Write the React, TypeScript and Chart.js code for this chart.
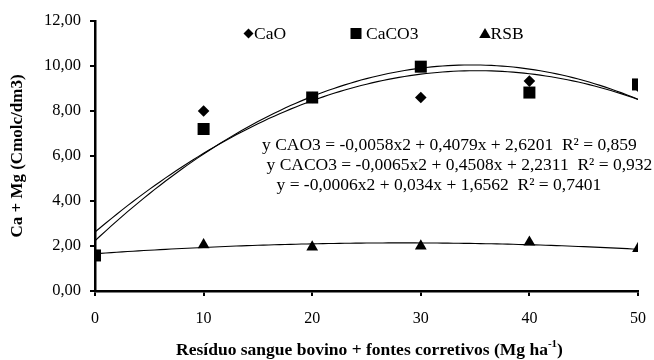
import React, { useEffect, useRef } from 'react';
import { Chart, registerables } from 'chart.js';

Chart.register(...registerables);

// ---- data ----
const doses = [0, 10, 20, 30, 40, 50];
const caoValues = [1.6, 8.0, 8.6, 8.6, 9.33, 9.1];
const caco3Values = [1.58, 7.2, 8.6, 9.97, 8.82, 9.18];
const rsbValues = [1.6, 2.05, 1.95, 2.0, 2.17, 1.89];
const yTicks = [0, 2, 4, 6, 8, 10, 12];
const xTicks = [0, 10, 20, 30, 40, 50];
const caoCoef = [-0.0058, 0.4079, 2.6201];
const caco3Coef = [-0.0065, 0.4508, 2.2311];
const rsbCoef = [-0.0006, 0.034, 1.6562];
const legendLabels = ['CaO', 'CaCO3', 'RSB'];
const equationLines = [
  'y CAO3 = -0,0058x2 + 0,4079x + 2,6201  R² = 0,859',
  'y CACO3 = -0,0065x2 + 0,4508x + 2,2311  R² = 0,932',
  'y = -0,0006x2 + 0,034x + 1,6562  R² = 0,7401',
];
const yTitle = 'Ca + Mg (Cmolc/dm3)';
const xTitleMain = 'Resíduo sangue bovino + fontes corretivos (Mg ha';
const xTitleSup = '-1';
const xTitleEnd = ')';

const FONT = "'Liberation Serif', 'Times New Roman', serif";

const trendPoints = (coef: number[]) => {
  const pts: { x: number; y: number }[] = [];
  for (let i = 0; i <= 100; i++) {
    const x = (i * xTicks[xTicks.length - 1]) / 100;
    pts.push({ x, y: coef[0] * x * x + coef[1] * x + coef[2] });
  }
  return pts;
};

const overlayPlugin = {
  id: 'overlay',
  afterDraw(chart: any) {
    const ctx = chart.ctx as CanvasRenderingContext2D;
    ctx.save();
    ctx.fillStyle = '#000';

    // legend
    const ly = 33.5;
    ctx.font = `17.5px ${FONT}`;
    ctx.textBaseline = 'alphabetic';
    ctx.textAlign = 'left';
    // diamond
    ctx.beginPath();
    ctx.moveTo(248.5, ly - 5);
    ctx.lineTo(253.5, ly);
    ctx.lineTo(248.5, ly + 5);
    ctx.lineTo(243.5, ly);
    ctx.closePath();
    ctx.fill();
    ctx.fillText(legendLabels[0], 254, 39);
    // square
    ctx.fillRect(350.5, ly - 5.5, 11, 11);
    ctx.fillText(legendLabels[1], 366, 39);
    // triangle
    ctx.beginPath();
    ctx.moveTo(485, ly - 5.5);
    ctx.lineTo(490.8, ly + 4.5);
    ctx.lineTo(479.2, ly + 4.5);
    ctx.closePath();
    ctx.fill();
    ctx.fillText(legendLabels[2], 490.5, 39);

    // equations
    ctx.font = `17.5px ${FONT}`;
    ctx.fillText(equationLines[0], 262, 150);
    ctx.fillText(equationLines[1], 266.5, 170);
    ctx.fillText(equationLines[2], 276.5, 190);

    // y title
    const { left, right, top, bottom } = chart.chartArea;
    ctx.font = `bold 17px ${FONT}`;
    ctx.save();
    ctx.translate(22, (top + bottom) / 2);
    ctx.rotate(-Math.PI / 2);
    ctx.textAlign = 'center';
    ctx.fillText(yTitle, 0, 0);
    ctx.restore();

    // x title with superscript
    ctx.font = `bold 17.5px ${FONT}`;
    const wMain = ctx.measureText(xTitleMain).width;
    ctx.font = `bold 11px ${FONT}`;
    const wSup = ctx.measureText(xTitleSup).width;
    ctx.font = `bold 17.5px ${FONT}`;
    const wEnd = ctx.measureText(xTitleEnd).width;
    const total = wMain + wSup + wEnd;
    const x0 = (left + right) / 2 - total / 2 + 3;
    const by = 355;
    ctx.textAlign = 'left';
    ctx.fillText(xTitleMain, x0, by);
    ctx.font = `bold 11px ${FONT}`;
    ctx.fillText(xTitleSup, x0 + wMain, by - 8);
    ctx.font = `bold 17.5px ${FONT}`;
    ctx.fillText(xTitleEnd, x0 + wMain + wSup, by);
    ctx.restore();
  },
};

export default function App() {
  const ref = useRef<HTMLCanvasElement>(null);
  useEffect(() => {
    if (!ref.current) return;
    const chart = new Chart(ref.current, {
      type: 'scatter',
      data: {
        datasets: [
          {
            label: 'RSB',
            data: doses.map((d, i) => ({ x: d, y: rsbValues[i] })),
            pointStyle: 'triangle',
            pointRadius: 6.8,
            backgroundColor: '#000',
            borderColor: '#000',
            borderWidth: 0,
            order: 3,
          },
          {
            label: 'CaCO3',
            data: doses.map((d, i) => ({ x: d, y: caco3Values[i] })),
            pointStyle: 'rect',
            pointRadius: 8.5,
            backgroundColor: '#000',
            borderColor: '#000',
            borderWidth: 0,
            order: 4,
          },
          {
            label: 'CaO',
            data: doses.map((d, i) => ({ x: d, y: caoValues[i] })),
            pointStyle: 'rectRot',
            pointRadius: 5.8,
            backgroundColor: '#000',
            borderColor: '#000',
            borderWidth: 0,
            order: 5,
          },
          {
            type: 'line',
            label: 'trend CaO',
            data: trendPoints(caoCoef),
            borderColor: '#000',
            borderWidth: 1.1,
            pointRadius: 0,
            fill: false,
            order: 1,
          } as any,
          {
            type: 'line',
            label: 'trend CaCO3',
            data: trendPoints(caco3Coef),
            borderColor: '#000',
            borderWidth: 1.1,
            pointRadius: 0,
            fill: false,
            order: 1,
          } as any,
          {
            type: 'line',
            label: 'trend RSB',
            data: trendPoints(rsbCoef),
            borderColor: '#000',
            borderWidth: 1.1,
            pointRadius: 0,
            fill: false,
            order: 1,
          } as any,
        ],
      },
      options: {
        animation: false,
        responsive: true,
        maintainAspectRatio: false,
        layout: { padding: { top: 21, right: 16, left: 0, bottom: 0 } },
        plugins: { legend: { display: false }, tooltip: { enabled: false } },
        scales: {
          x: {
            type: 'linear',
            min: 0,
            max: 50,
            afterBuildTicks: (s: any) => {
              s.ticks = xTicks.map((v) => ({ value: v }));
            },
            afterFit: (s: any) => {
              s.height = 69;
              s.paddingLeft = 0;
              s.paddingRight = 0;
            },
            ticks: {
              color: '#000',
              font: { family: FONT, size: 16 },
              padding: 13,
              maxRotation: 0,
              callback: (v: any) => String(v),
            },
            grid: {
              drawOnChartArea: false,
              drawTicks: true,
              tickLength: 5,
              color: '#000',
              lineWidth: 2,
            },
            border: { display: true, color: '#000', width: 2.5 },
          },
          y: {
            type: 'linear',
            min: 0,
            max: 12,
            afterBuildTicks: (s: any) => {
              s.ticks = yTicks.map((v) => ({ value: v }));
            },
            afterFit: (s: any) => {
              s.width = 95;
              s.paddingTop = 0;
              s.paddingBottom = 0;
            },
            ticks: {
              color: '#000',
              font: { family: FONT, size: 16.5 },
              padding: 9,
              callback: (v: any) => Number(v).toFixed(2).replace('.', ','),
            },
            grid: {
              drawOnChartArea: false,
              drawTicks: true,
              tickLength: 5,
              color: '#000',
              lineWidth: 2,
            },
            border: { display: true, color: '#000', width: 2.5 },
          },
        },
      },
      plugins: [overlayPlugin],
    });
    return () => chart.destroy();
  }, []);
  return (
    <div style={{ position: 'absolute', left: 0, top: 0, width: 654, height: 360, background: '#fff' }}>
      <canvas ref={ref} />
    </div>
  );
}
